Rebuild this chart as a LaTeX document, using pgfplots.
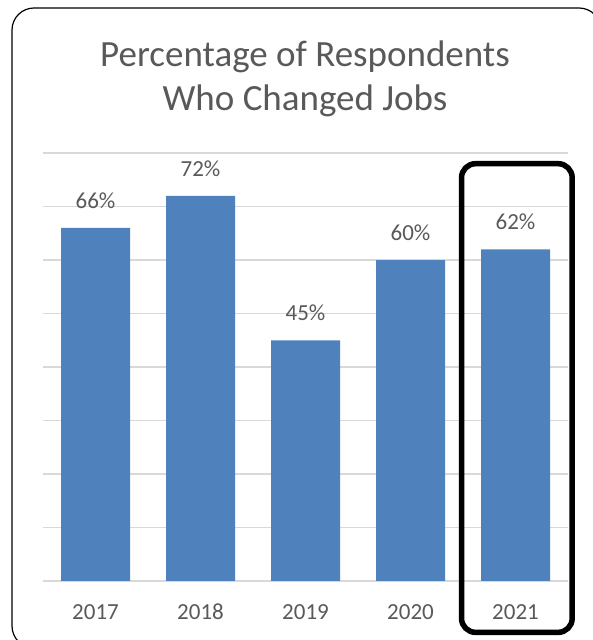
\documentclass[border=0pt]{standalone}
\usepackage{pgfplots}
\pgfplotsset{compat=1.18}
\usepackage{fontspec}
\setmainfont{Carlito}
\definecolor{barblue}{HTML}{4F81BD}
\definecolor{gridgray}{HTML}{D9D9D9}
\definecolor{txtgray}{HTML}{595959}
\begin{document}
\begin{tikzpicture}[x=1pt,y=1pt]
\useasboundingbox (0,0) rectangle (592,640);
\draw[black, line width=1.2pt, rounded corners=22pt] (12,-8) rectangle (601,632);
\node[text=txtgray, font=\fontsize{37}{44}\selectfont, align=center] at (305,561) {Percentage of Respondents\\Who Changed Jobs};
\begin{axis}[
  at={(43pt,59pt)}, anchor=south west,
  width=525pt, height=428pt, scale only axis,
  /pgf/number format/assume math mode=true,
  xmin=-0.5, xmax=4.5, ymin=0, ymax=80,
  ytick={0,10,...,80}, yticklabels={},
  ymajorgrids, grid style={gridgray, line width=1.2pt},
  xtick={0,1,2,3,4}, xticklabels={2017,2018,2019,2020,2021},
  xticklabel style={text=txtgray, font=\fontsize{23}{26}\selectfont, anchor=base, yshift=-38pt},
  major tick length=0pt,
  axis line style={draw=none},
  axis x line*=bottom,
  ybar, bar width=69pt,
  nodes near coords={\pgfmathprintnumber{\pgfplotspointmeta}\%},
  nodes near coords style={text=txtgray, font=\fontsize{23}{26}\selectfont, yshift=16pt},
  clip=false,
]
\draw[gridgray, line width=1.2pt] (axis cs:-0.5,0) -- (axis cs:4.5,0);
\addplot[fill=barblue, draw=none] coordinates {(0,66) (1,72) (2,45) (3,60) (4,62)};
\draw[black, line width=5.5pt, rounded corners=14pt] (axis cs:3.486,78) rectangle (axis cs:4.54,-9.6);
\end{axis}
\end{tikzpicture}
\end{document}
